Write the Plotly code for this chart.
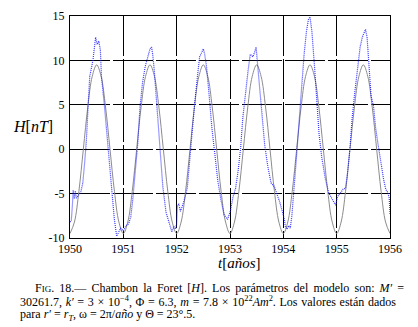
import plotly.graph_objects as go

# Observed H (blue, dotted)
t_obs = [1950.00, 1950.025, 1950.045, 1950.06, 1950.08, 1950.10, 1950.12, 1950.15, 1950.18, 1950.20, 1950.24,
         1950.275, 1950.306, 1950.34, 1950.37, 1950.43, 1950.46, 1950.48, 1950.51, 1950.54, 1950.57,
         1950.59, 1950.65, 1950.71, 1950.78, 1950.83, 1950.875, 1950.91, 1950.95,
         1951.00, 1951.05, 1951.10, 1951.14, 1951.175, 1951.21, 1951.27, 1951.31, 1951.36, 1951.41,
         1951.46, 1951.50, 1951.53, 1951.55, 1951.58, 1951.625, 1951.675, 1951.74, 1951.80, 1951.86,
         1951.91, 1951.95, 1951.98,
         1952.00, 1952.015, 1952.04, 1952.07, 1952.10, 1952.15, 1952.20, 1952.24, 1952.29, 1952.34,
         1952.39, 1952.43, 1952.47, 1952.50, 1952.525, 1952.56, 1952.61, 1952.66, 1952.715, 1952.77,
         1952.83, 1952.89, 1952.955, 1952.98,
         1953.01, 1953.055, 1953.105, 1953.155, 1953.20, 1953.24, 1953.29, 1953.34, 1953.38, 1953.43,
         1953.46, 1953.49, 1953.505, 1953.54, 1953.59, 1953.65, 1953.71, 1953.77, 1953.83, 1953.87,
         1953.93, 1953.98,
         1954.02, 1954.04, 1954.07, 1954.10, 1954.13, 1954.16, 1954.19, 1954.245, 1954.30, 1954.346,
         1954.39, 1954.434, 1954.47, 1954.50, 1954.535, 1954.58, 1954.62, 1954.67, 1954.72, 1954.79,
         1954.85, 1954.89, 1954.94, 1954.98,
         1955.01, 1955.04, 1955.076, 1955.12, 1955.165, 1955.20, 1955.25, 1955.29, 1955.34, 1955.39,
         1955.44, 1955.48, 1955.51, 1955.54, 1955.57, 1955.61, 1955.645, 1955.69, 1955.73, 1955.785,
         1955.835, 1955.88, 1955.92, 1955.96, 1955.985, 1956.00]
h_obs = [-8.2, -8.0, -6.3, -4.6, -5.6, -4.7, -5.5, -5.2, -5.0, -4.9, -3.8,
         -1.5, 0.9, 4.9, 8.2, 10.0, 11.5, 12.6, 11.8, 12.2, 11.1,
         8.2, 4.6, 0.2, -4.9, -7.8, -9.8, -9.3, -8.9,
         -9.2, -8.6, -8.4, -7.6, -5.8, -3.5, 0.6, 4.6, 7.5, 9.3,
         10.4, 11.3, 11.5, 10.7, 8.9, 5.3, 0.9, -4.2, -7.1, -8.4,
         -9.3, -8.7, -9.0,
         -8.4, -6.3, -6.2, -7.0, -6.5, -5.6, -4.3, -1.3, 2.0, 5.3,
         8.2, 10.4, 10.9, 11.3, 10.7, 9.3, 6.0, 2.4, -0.5, -3.5,
         -5.7, -7.4, -7.9, -7.4,
         -6.9, -5.4, -4.4, -2.3, 0.2, 3.5, 6.4, 8.9, 10.7, 10.4,
         10.9, 11.5, 10.4, 8.2, 4.6, 0.5, -2.0, -3.8, -4.2, -4.8,
         -5.9, -7.0,
         -7.9, -8.8, -9.0, -8.6, -8.9, -7.5, -5.5, -1.0, 3.5, 7.8,
         10.7, 13.3, 14.6, 14.9, 13.3, 9.7, 5.7, 1.7, -0.9, -3.4,
         -4.9, -5.3, -5.9, -6.3,
         -5.5, -5.1, -4.9, -4.5, -4.4, -2.9, 0.2, 3.5, 6.4, 8.9,
         11.5, 12.6, 13.1, 13.5, 12.6, 8.9, 6.0, 4.9, 2.4, 0.2,
         -2.0, -3.4, -4.5, -4.9, -5.5, -7.3]

# Model H (grey, solid) read month by month, one cycle per year
years = [1950, 1951, 1952, 1953, 1954, 1955]
months = [0, 1, 2, 3, 4, 5, 6, 7, 8, 9, 10, 11]
model_cycle = [-9.5, -8.2, -4.75, 0.0, 4.75, 8.2, 9.5, 8.2, 4.75, 0.0, -4.75, -8.2]
t_model = [y + m / 12 for y in years for m in months] + [1956]
h_model = model_cycle * len(years) + [-9.5]

x_ticks = [1950, 1951, 1952, 1953, 1954, 1955, 1956]
y_ticks = [-10, -5, 0, 5, 10, 15]

SERIF = "Liberation Serif"

fig = go.Figure()
fig.add_trace(go.Scatter(x=t_model, y=h_model, mode="lines", line_shape="spline",
                         line=dict(color="rgb(140,140,140)", width=1), showlegend=False))
fig.add_trace(go.Scatter(x=t_obs, y=h_obs, mode="lines",
                         line=dict(color="rgba(20,20,255,0.85)", width=1.2, dash="1px,1px"), showlegend=False))

axis_common = dict(showline=True, linecolor="black", linewidth=1, mirror=True,
                   showgrid=True, gridcolor="black", gridwidth=1, griddash="40px,3px",
                   zeroline=False, ticks="", tickfont=dict(family=SERIF, size=12, color="black"))
fig.update_xaxes(range=[1950, 1956], tickvals=x_ticks, ticktext=[str(v) for v in x_ticks],
                 ticklabelstandoff=0, **axis_common)
fig.update_yaxes(range=[-10, 15], tickvals=y_ticks, ticktext=[str(v) for v in y_ticks],
                 ticklabelstandoff=2, **axis_common)

fig.update_layout(width=418, height=327, margin=dict(l=70, r=28, t=9, b=89),
                  plot_bgcolor="white", paper_bgcolor="white",
                  font=dict(family=SERIF, color="black"))

PW, PH, PB = 320.0, 229.0, 238.3


def place(text, px, py, anchor="left", size=12):
    fig.add_annotation(text=text, xref="paper", yref="paper",
                       x=(px - 70) / PW, y=(PB - py) / PH, xanchor=anchor, yanchor="middle",
                       showarrow=False, font=dict(family=SERIF, size=size, color="black"))


place("<i>H</i>[<i>nT</i>]", 33, 123, "center", 16)
place("<i>t</i>[<i>años</i>]", 239, 264, "center", 15)

# caption (justified look via word spacing)
place("<span style='word-spacing:2.1px'>F<span style='font-size:9px'>IG</span>. 18.— Chambon la Foret [<i>H</i>]. "
      "Los parámetros del modelo son: <i>M′</i> =</span>", 33, 290)
place("<span style='word-spacing:0.7px'>30261.7, <i>k′</i> = 3 × 10<sup>−4</sup>, Φ = 6.3, <i>m</i> = 7.8 × "
      "10<sup>22</sup><i>Am</i><sup>2</sup>. Los valores están dados</span>", 18, 304)
place("para <i>r′</i> = <i>r</i><sub><i>T</i></sub>, ω = 2π/<i>año</i> y Θ = 23°.5.", 18, 318)

fig.write_html("out.html", config={"displayModeBar": False},
               post_script="document.body.style.margin='0';document.body.style.padding='0';")
